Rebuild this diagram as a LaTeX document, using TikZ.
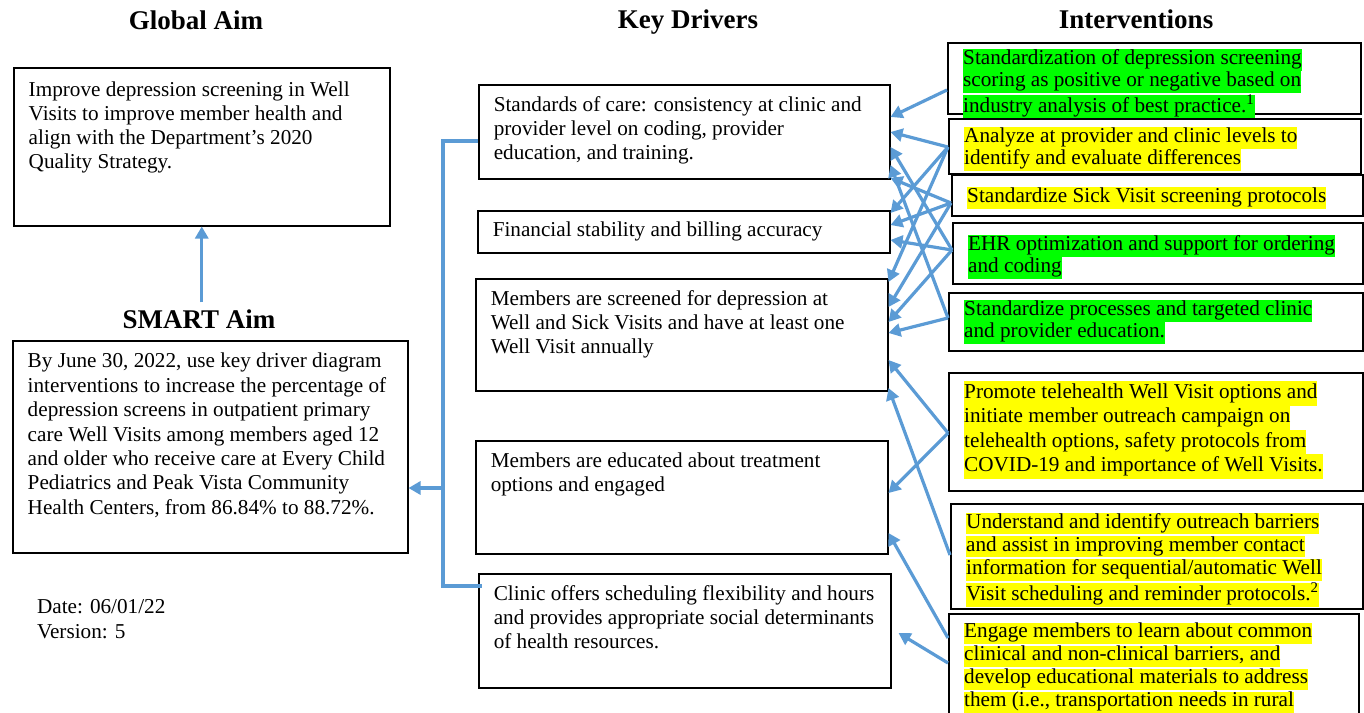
\documentclass[tikz,border=0pt]{standalone}
\usepackage{fontspec}
\setmainfont{Liberation Serif}
\usetikzlibrary{arrows.meta}
\definecolor{linkblue}{HTML}{5B9BD5}
\definecolor{hlyellow}{HTML}{FFFF00}
\definecolor{hlgreen}{HTML}{00FF00}
\setlength{\fboxsep}{0pt}
% text block of a box: [baselineskip]{width}{height}{lines}
\newcommand{\boxtext}[4][12pt]{\parbox[t][#3][t]{#2}{\fontsize{10.6pt}{#1}\selectfont\raggedright\strut #4}}
\newcommand{\hly}[1]{\colorbox{hlyellow}{\strut #1}}
\newcommand{\hlg}[1]{\colorbox{hlgreen}{\strut #1}}
\tikzset{
  head/.style={font=\fontsize{13.5pt}{16pt}\selectfont\bfseries},
  kbox/.style={draw, line width=0.75pt, anchor=north west, inner xsep=7.5pt, inner ysep=5pt},
  chg/.style={kbox, line width=1.2pt, inner ysep=4pt},
  link/.style={draw=linkblue, line width=1.8pt},
  arr/.style={link, line width=1.6pt, -{Triangle[length=6pt,width=6.5pt]}}
}
\begin{document}
\begin{tikzpicture}[x=0.5pt,y=-0.5pt]
  \useasboundingbox (0,0) rectangle (1364,712);
  \clip (0,0) rectangle (1364,712);
  % column heads
  \node[head] (globT) at (196,20) {Global Aim};
  \node[head] (smartT) at (199,319) {SMART Aim};
  \node[head] (drvT) at (688,22) {Key Drivers};
  \node[head] (chgT) at (1136,19) {Interventions};
  % aims
  \node[kbox, inner ysep=6pt] (glob) at (13,67) {\boxtext{173pt}{67pt}{Improve depression screening in Well\\
    Visits to improve member health and\\
    align with the Department’s 2020\\
    Quality Strategy.}};
  \node[kbox] (smart) at (12,340) {\boxtext[12.2pt]{182.5pt}{96pt}{By June 30, 2022, use key driver diagram\\
    interventions to increase the percentage of\\
    depression screens in outpatient primary\\
    care Well Visits among members aged 12\\
    and older who receive care at Every Child\\
    Pediatrics and Peak Vista Community\\
    Health Centers, from 86.84\% to 88.72\%.}};
  \node[anchor=north west, align=left, font=\fontsize{10.6pt}{12.5pt}\selectfont] (date) at (30,592) {Date: 06/01/22\\Version: 5};
  % key drivers
  \node[kbox] (drvA) at (478,84) {\boxtext{190.5pt}{37pt}{Standards of care: consistency at clinic and\\
    provider level on coding, provider\\
    education, and training.}};
  \node[kbox, inner ysep=4.5pt] (drvB) at (477,210) {\boxtext{191pt}{12pt}{Financial stability and billing accuracy}};
  \node[kbox] (drvC) at (475,278) {\boxtext{191pt}{46pt}{Members are screened for depression at\\
    Well and Sick Visits and have at least one\\
    Well Visit annually}};
  \node[kbox] (drvD) at (475,440) {\boxtext{191pt}{46.5pt}{Members are educated about treatment\\
    options and engaged}};
  \node[kbox] (drvE) at (478,573) {\boxtext{191pt}{47pt}{Clinic offers scheduling flexibility and hours\\
    and provides appropriate social determinants\\
    of health resources.}};
  % interventions
  \node[chg, inner ysep=3pt] (chgA) at (947,42) {\boxtext[11pt]{191.5pt}{29.5pt}{%
    \hlg{Standardization of depression screening}\\
    \hlg{scoring as positive or negative based on}\\
    \hlg{industry analysis of best practice.\textsuperscript{1}}}};
  \node[chg] (chgB) at (948,118) {\boxtext[11pt]{191pt}{19.5pt}{%
    \hly{Analyze at provider and clinic levels to}\\
    \hly{identify and evaluate differences}}};
  \node[chg, inner ysep=6pt] (chgC) at (951,174) {\boxtext[11pt]{190.5pt}{8.5pt}{%
    \hly{Standardize Sick Visit screening protocols}}};
  \node[chg, inner ysep=6pt] (chgD) at (952,222) {\boxtext[11pt]{190pt}{18.5pt}{%
    \hlg{EHR optimization and support for ordering}\\
    \hlg{and coding}}};
  \node[chg, inner ysep=3.5pt] (chgE) at (948,292) {\boxtext[11pt]{192pt}{22pt}{%
    \hlg{Standardize processes and targeted clinic}\\
    \hlg{and provider education.}}};
  \node[chg] (chgF) at (948,372) {\boxtext[12.2pt]{192pt}{51pt}{%
    \hly{Promote telehealth Well Visit options and}\\
    \hly{initiate member outreach campaign on}\\
    \hly{telehealth options, safety protocols from}\\
    \hly{COVID-19 and importance of Well Visits.}}};
  \node[chg, inner ysep=4.5pt] (chgG) at (950,503) {\boxtext[10.5pt]{191pt}{43.5pt}{%
    \hly{Understand and identify outreach barriers}\\
    \hly{and assist in improving member contact}\\
    \hly{information for sequential/automatic Well}\\
    \hly{Visit scheduling and reminder protocols.\textsuperscript{2}}}};
  \node[chg, inner ysep=4.5pt] (chgH) at (948,613) {\boxtext[10.5pt]{190pt}{54.5pt}{%
    \hly{Engage members to learn about common}\\
    \hly{clinical and non-clinical barriers, and}\\
    \hly{develop educational materials to address}\\
    \hly{them (i.e., transportation needs in rural}}};
  % drivers feed the SMART aim
  \coordinate (top) at (443,141);
  \coordinate (bot) at (443,586);
  \coordinate (join) at (443,488);
  \draw[link] (drvA.west |- top) -- (top) -- (bot) -- ([xshift=2pt]drvE.west |- bot);
  \draw[arr] (join) -- (join -| smart.east);
  \draw[arr] (smartT.north -| glob.south) -- (glob.south);
  % interventions to key drivers
  \draw[arr] ([yshift=-24pt]chgA.north west) -- ([yshift=-16.5pt]drvA.north east);
  \foreach \t/\s in {drvA/-24pt, drvB/-1.5pt, drvC/-2pt} {
    \draw[arr] ([yshift=-14.5pt]chgB.north west) -- ([yshift=\s]\t.north east);
  }
  \foreach \t/\s in {drvA/-47pt, drvB/-7.5pt, drvC/-14.5pt} {
    \draw[arr] ([yshift=-14.5pt]chgC.north west) -- ([yshift=\s]\t.north east);
  }
  \foreach \t/\s in {drvA/-31.5pt, drvB/-15pt, drvC/-22pt} {
    \draw[arr] ([yshift=-14pt]chgD.north west) -- ([yshift=\s]\t.north east);
  }
  \foreach \t/\s in {drvA/-40.5pt, drvC/-27.5pt} {
    \draw[arr] ([yshift=-13pt]chgE.north west) -- ([yshift=\s]\t.north east);
  }
  \foreach \t/\s in {drvC/-41pt, drvD/-26.5pt} {
    \draw[arr] ([yshift=-30.5pt]chgF.north west) -- ([yshift=\s]\t.north east);
  }
  \draw[arr] ([yshift=-26pt]chgG.north west) -- ([yshift=-55pt]drvC.north east);
  \draw[arr] ([yshift=-12.5pt]chgH.north west) -- ([yshift=-46.5pt]drvD.north east);
  \draw[arr] ([yshift=-25pt]chgH.north west) -- ([xshift=3.5pt,yshift=-30pt]drvE.north east);
\end{tikzpicture}
\end{document}
